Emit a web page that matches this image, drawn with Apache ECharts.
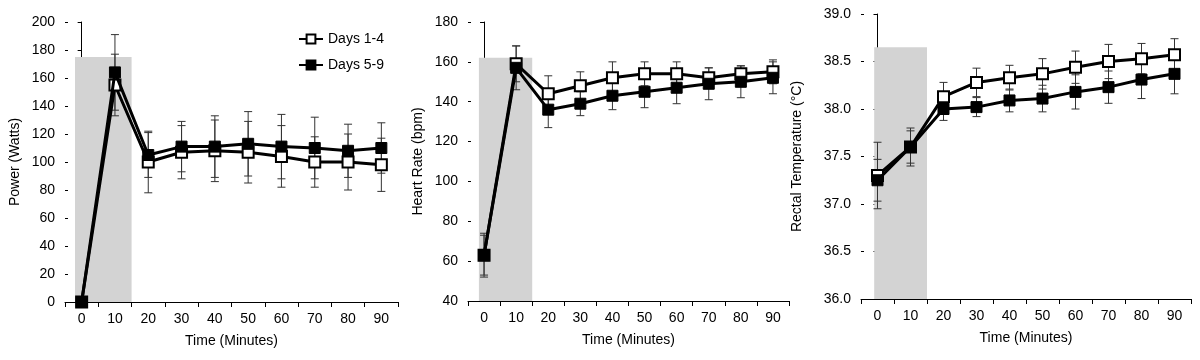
<!DOCTYPE html>
<html>
<head>
<meta charset="utf-8">
<script src="https://cdn.jsdelivr.net/npm/echarts@6/dist/echarts.min.js"></script>
<style>
html,body{margin:0;padding:0;background:#fff;}
#chart{width:1200px;height:360px;}
</style>
</head>
<body>
<div id="chart"></div>
<script>
// ---- data ----
const times = [0, 10, 20, 30, 40, 50, 60, 70, 80, 90];
const tickLabels = ['0', '10', '20', '30', '40', '50', '60', '70', '80', '90'];
const seriesNames = ['Days 1-4', 'Days 5-9'];

const powerD14 = [0, 155, 100, 107, 108, 107, 104, 100, 100, 98];
const powerD14Err = [0, 22, 22, 19, 22, 22, 22, 18, 20, 19];
const powerD59 = [0, 164, 105, 111, 111, 113, 111, 110, 108, 110];
const powerD59Err = [0, 27, 16, 18, 22, 23, 23, 22, 19, 18];

const hrD14 = [63, 159, 144, 148, 152, 154, 154, 152, 154, 155];
const hrD14Err = [10, 9, 9, 7, 8, 6, 6, 5, 4, 6];
const hrD59 = [63, 157, 136, 139, 143, 145, 147, 149, 150, 152];
const hrD59Err = [11, 11, 9, 6, 7, 8, 8, 8, 8, 8];

const tempD14 = [37.30, 37.60, 38.13, 38.28, 38.33, 38.37, 38.44, 38.50, 38.53, 38.57];
const tempD14Err = [0.35, 0.20, 0.15, 0.15, 0.13, 0.16, 0.17, 0.18, 0.16, 0.17];
const tempD59 = [37.25, 37.60, 38.00, 38.02, 38.09, 38.11, 38.18, 38.23, 38.31, 38.37];
const tempD59Err = [0.22, 0.17, 0.12, 0.10, 0.12, 0.14, 0.18, 0.17, 0.20, 0.21];

// shaded exercise period: [start minute, end minute, top value]
const powerShade = [-2, 15, 175];
const hrShade = [-1.6, 15, 162];
const tempShade = [-1, 15, 38.65];

const yTitles = ['Power (Watts)', 'Heart Rate (bpm)', 'Rectal Temperature (°C)'];
const xTitle = 'Time (Minutes)';

// ---- layout ----
const FONT = "'Liberation Sans', Arial, sans-serif";
const panels = [
  {grid: {left: 65, top: 22, width: 333, height: 280}, y: {min: 0, max: 200, interval: 20}, fmt: v => String(v), nameGap: 43,
   d14: powerD14, e14: powerD14Err, d59: powerD59, e59: powerD59Err, shade: powerShade},
  {grid: {left: 468, top: 22, width: 321, height: 279}, y: {min: 40, max: 180, interval: 20}, fmt: v => String(v), nameGap: 43,
   d14: hrD14, e14: hrD14Err, d59: hrD59, e59: hrD59Err, shade: hrShade},
  {grid: {left: 861, top: 14, width: 330, height: 285}, y: {min: 36, max: 39, interval: 0.5}, fmt: v => v.toFixed(1), nameGap: 57,
   d14: tempD14, e14: tempD14Err, d59: tempD59, e59: tempD59Err, shade: tempShade}
];

const grids = [], xAxes = [], yAxes = [], series = [];
panels.forEach((p, i) => {
  grids.push(Object.assign({containLabel: false}, p.grid));
  // visible category axis (labels and ticks)
  xAxes.push({
    type: 'category', gridIndex: i, data: tickLabels, boundaryGap: true,
    name: xTitle, nameLocation: 'middle', nameGap: 32,
    nameTextStyle: {fontFamily: FONT, fontSize: 14, color: '#000'},
    axisLine: {lineStyle: {color: '#000', width: 1}},
    axisTick: {show: true, length: 5, interval: 0, lineStyle: {color: '#000'}},
    axisLabel: {fontFamily: FONT, fontSize: 14, color: '#000', margin: 10, interval: 0},
    splitLine: {show: false}
  });
  // hidden value axis used for positioning marks
  xAxes.push({type: 'value', gridIndex: i, min: -5, max: 95, show: false, splitLine: {show: false}});
  yAxes.push({
    type: 'value', gridIndex: i, position: 'left', min: p.y.min, max: p.y.max, interval: p.y.interval,
    name: yTitles[i], nameLocation: 'middle', nameGap: p.nameGap, nameRotate: 90,
    nameTextStyle: {fontFamily: FONT, fontSize: 14, color: '#000'},
    axisLine: {show: true, lineStyle: {color: '#000', width: 1}},
    axisTick: {show: true, length: 4, lineStyle: {color: '#000'}},
    axisLabel: {fontFamily: FONT, fontSize: 14, color: '#000', margin: 10, formatter: p.fmt},
    splitLine: {show: false}
  });
  // inside ticks (cross ticks) on the same left axis
  yAxes.push({
    type: 'value', gridIndex: i, position: 'left', offset: 0, min: p.y.min, max: p.y.max, interval: p.y.interval,
    axisLine: {show: false}, axisLabel: {show: false}, splitLine: {show: false},
    axisTick: {show: true, inside: true, length: 3, lineStyle: {color: '#000'}}
  });
  const xi = i * 2 + 1, yi = i * 2;
  // shaded region
  series.push({
    type: 'custom', xAxisIndex: xi, yAxisIndex: yi, silent: true, z: 1,
    data: [[p.shade[0], p.shade[1], p.shade[2], p.y.min]],
    renderItem: (params, api) => {
      const a = api.coord([api.value(0), api.value(2)]);
      const b = api.coord([api.value(1), api.value(3)]);
      return {type: 'rect', shape: {x: a[0], y: a[1], width: b[0] - a[0], height: b[1] - a[1]},
              style: {fill: '#d3d3d3'}};
    }
  });
  // error bars
  [[p.d14, p.e14], [p.d59, p.e59]].forEach(([d, e]) => {
    series.push({
      type: 'custom', xAxisIndex: xi, yAxisIndex: yi, silent: true, z: 2,
      data: times.map((t, k) => [t, d[k], e[k]]),
      renderItem: (params, api) => {
        const x = api.value(0), y = api.value(1), err = api.value(2);
        if (!err) return null;
        const t = api.coord([x, y + err]), b = api.coord([x, y - err]);
        const w = 4;
        const st = {stroke: '#333', lineWidth: 1};
        return {type: 'group', children: [
          {type: 'line', shape: {x1: t[0], y1: t[1], x2: b[0], y2: b[1]}, style: st},
          {type: 'line', shape: {x1: t[0] - w, y1: t[1], x2: t[0] + w, y2: t[1]}, style: st},
          {type: 'line', shape: {x1: b[0] - w, y1: b[1], x2: b[0] + w, y2: b[1]}, style: st}
        ]};
      }
    });
  });
  series.push({
    name: seriesNames[0], type: 'line', xAxisIndex: xi, yAxisIndex: yi, z: 3,
    data: times.map((t, k) => [t, p.d14[k]]),
    symbol: 'rect', symbolSize: 11,
    lineStyle: {color: '#000', width: 3},
    itemStyle: {color: '#fff', borderColor: '#000', borderWidth: 2},
    emphasis: {disabled: true}
  });
  series.push({
    name: seriesNames[1], type: 'line', xAxisIndex: xi, yAxisIndex: yi, z: 4,
    data: times.map((t, k) => [t, p.d59[k]]),
    symbol: 'rect', symbolSize: 11,
    lineStyle: {color: '#000', width: 3},
    itemStyle: {color: '#000', borderColor: '#000', borderWidth: 1},
    emphasis: {disabled: true}
  });
});

const chart = echarts.init(document.getElementById('chart'), null, {renderer: 'canvas'});
chart.setOption({
  animation: false,
  backgroundColor: '#fff',
  grid: grids,
  xAxis: xAxes,
  yAxis: yAxes,
  legend: {
    data: seriesNames, orient: 'vertical', left: 293, top: 27, itemGap: 12,
    itemWidth: 24, itemHeight: 11,
    textStyle: {fontFamily: FONT, fontSize: 14, color: '#000'}
  },
  series: series
});
</script>
</body>
</html>
